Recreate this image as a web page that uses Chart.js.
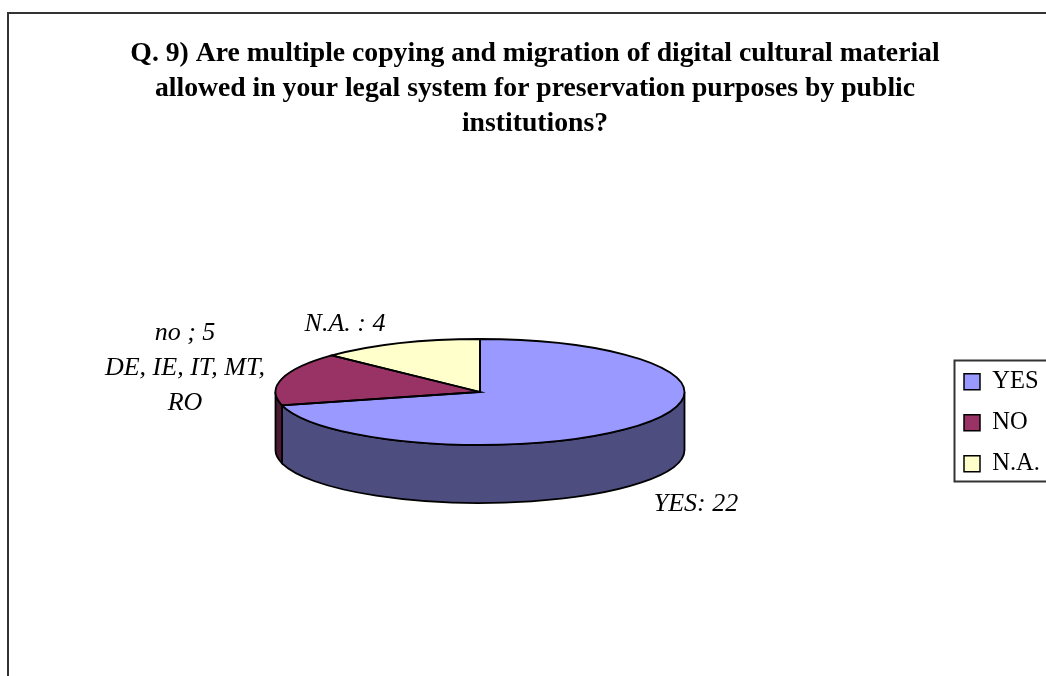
<!DOCTYPE html>
<html>
<head>
<meta charset="utf-8">
<title>Q. 9</title>
<script src="https://cdn.jsdelivr.net/npm/chart.js@4/dist/chart.umd.js"></script>
<style>
  html, body { margin: 0; padding: 0; background: #fff; overflow: hidden; }
  #wrap { width: 1046px; height: 676px; }
</style>
</head>
<body>
<div id="wrap"><canvas id="chart" width="1046" height="676"></canvas></div>
<script>
const titleLines = [
    'Q. 9) Are multiple copying and migration of digital cultural material',
    'allowed in your legal system for preservation purposes by public',
    'institutions?'
];
const categories = ['YES', 'NO', 'N.A.'];
const answers = [22, 5, 4];
const sliceColors = ['#9999FF', '#993366', '#FFFFCC'];
const sideColors = ['#4D4D80', '#4D1A33', '#808066'];
const sliceLabels = [
    {lines: ['YES: 22'], x: 696, y: 511},
    {lines: ['no ; 5', 'DE, IE, IT, MT,', 'RO'], x: 185, y: 340},
    {lines: ['N.A. : 4'], x: 345, y: 331}
];

// flattened look of the old Excel pie
const pie = {cx: 480, cy: 392, rx: 204.5, ry: 53, depth: 58};
const serif = '"Liberation Serif", "Times New Roman", serif';

const pie3d = {
    id: 'pie3d',
    afterLayout(chart) {
        // put the pie, title and legend where the reference has them
        const a = chart.chartArea;
        a.left = pie.cx - pie.rx;
        a.right = pie.cx + pie.rx;
        a.top = pie.cy - pie.rx;
        a.bottom = pie.cy + pie.rx;
        a.width = a.height = pie.rx * 2;

        const t = chart.titleBlock;
        t.left = 0;
        t.right = 1070;
        t.top = 36;
        t.bottom = 141;

        const l = chart.legend;
        l.left = 947.5;
        l.right = 1046;
        l.top = 353;
        l.bottom = 676;
    },
    beforeDatasetsDraw(chart) {
        const ctx = chart.ctx;
        const arcs = chart.getDatasetMeta(0).data;

        // side wall, only the front half of the rim shows
        arcs.forEach((arc, i) => {
            const from = Math.max(arc.startAngle, 0);
            const to = Math.min(arc.endAngle, Math.PI);
            if (from >= to) return;
            ctx.beginPath();
            ctx.ellipse(pie.cx, pie.cy, pie.rx, pie.ry, 0, from, to);
            ctx.ellipse(pie.cx, pie.cy + pie.depth, pie.rx, pie.ry, 0, to, from, true);
            ctx.closePath();
            ctx.fillStyle = sideColors[i];
            ctx.fill();
            ctx.lineWidth = 1.8;
            ctx.strokeStyle = '#000';
            ctx.stroke();
        });

        // squash the circle the library draws into the top ellipse
        ctx.save();
        ctx.translate(pie.cx, pie.cy);
        ctx.scale(1, pie.ry / pie.rx);
        ctx.translate(-pie.cx, -pie.cy);
    },
    afterDatasetsDraw(chart) {
        const ctx = chart.ctx;
        ctx.restore();

        chart.getDatasetMeta(0).data.forEach(arc => {
            ctx.beginPath();
            ctx.moveTo(pie.cx, pie.cy);
            ctx.ellipse(pie.cx, pie.cy, pie.rx, pie.ry, 0, arc.startAngle, arc.endAngle);
            ctx.closePath();
            ctx.lineWidth = 1.8;
            ctx.strokeStyle = '#000';
            ctx.stroke();
        });

        ctx.save();
        ctx.font = 'italic 26px ' + serif;
        ctx.fillStyle = '#000';
        ctx.textAlign = 'center';
        ctx.textBaseline = 'alphabetic';
        sliceLabels.forEach(label => {
            label.lines.forEach((line, i) => {
                ctx.fillText(line, label.x, label.y + i * 35);
            });
        });
        ctx.restore();
    },
    afterDraw(chart) {
        const ctx = chart.ctx;
        ctx.save();
        ctx.strokeStyle = '#333';
        ctx.lineWidth = 2;
        // both frames run past the right and bottom of the picture
        ctx.strokeRect(8, 13, 1100, 800);
        ctx.strokeRect(954.5, 360.5, 200, 121);
        ctx.restore();
    }
};

new Chart(document.getElementById('chart'), {
    type: 'pie',
    data: {
        labels: categories,
        datasets: [{
            data: answers,
            backgroundColor: sliceColors,
            borderWidth: 0
        }]
    },
    options: {
        responsive: false,
        animation: false,
        plugins: {
            title: {
                display: true,
                text: titleLines,
                color: '#000',
                padding: 0,
                font: {family: serif, size: 27.7, weight: 'bold', lineHeight: '35px'}
            },
            legend: {
                position: 'right',
                align: 'start',
                labels: {
                    color: '#000',
                    boxWidth: 16,
                    boxHeight: 16,
                    padding: 16.5,
                    font: {family: serif, size: 24.5},
                    generateLabels(chart) {
                        const items = Chart.overrides.pie.plugins.legend.labels.generateLabels(chart);
                        return items.map(item => ({...item, strokeStyle: '#000', lineWidth: 1.5}));
                    }
                }
            },
            tooltip: {enabled: false}
        }
    },
    plugins: [pie3d]
});
</script>
</body>
</html>
